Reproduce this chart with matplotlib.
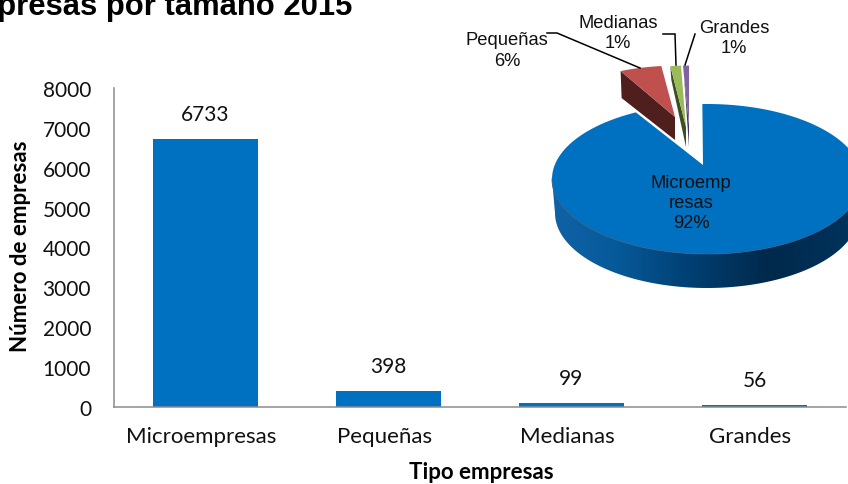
import numpy as np
import matplotlib
matplotlib.use('Agg')
import matplotlib.pyplot as plt
from matplotlib.colors import LinearSegmentedColormap
from matplotlib.patches import Polygon
from matplotlib.transforms import ScaledTranslation

# datos
categorias = ['Microempresas', 'Pequeñas', 'Medianas', 'Grandes']
empresas = [6733, 398, 99, 56]
pie_nombres = ['Microemp\nresas', 'Pequeñas', 'Medianas', 'Grandes']
pie_pct = ['92%', '6%', '1%', '1%']
y_ticks = [0, 1000, 2000, 3000, 4000, 5000, 6000, 7000, 8000]

W, H = 848, 485
AZUL = '#0070C0'

fig = plt.figure(figsize=(W / 100, H / 100), dpi=100)

# barras
ax = fig.add_axes([114 / W, 1 - 408 / H, (846 - 114) / W, (408 - 89) / H])
x = np.arange(len(categorias))
ax.bar(x, empresas, width=0.574, color=AZUL)
ax.set_xlim(-0.5, 3.5)
ax.set_ylim(0, 8000)
ax.set_yticks(y_ticks)
ax.set_xticks(x)
ax.set_xticklabels(categorias)
ax.tick_params(axis='both', length=0, labelsize=15, labelfontfamily='Lato', colors='#111111')
ax.tick_params(axis='y', pad=16.5)
ax.tick_params(axis='x', pad=14, labelsize=16)
for lab in ax.get_xticklabels():
    lab.set_transform(lab.get_transform() + ScaledTranslation(-4 / 100, 0, fig.dpi_scale_trans))
for s in ['top', 'right']:
    ax.spines[s].set_visible(False)
for s in ['left', 'bottom']:
    ax.spines[s].set_color('#8C8C8C')
    ax.spines[s].set_linewidth(1.1)
for xi, v in zip(x, empresas):
    ax.annotate(str(v), (xi, v), xytext=(0, 18), textcoords='offset points', ha='center', va='center',
                fontsize=15, family='Lato', color='#111111')

# capa en pixeles para la torta y los textos
ov = fig.add_axes([0, 0, 1, 1])
ov.set_xlim(0, W)
ov.set_ylim(H, 0)
ov.axis('off')
ov.patch.set_alpha(0)

ov.text(352, 15.5, 'Empresas por tamaño 2015', ha='right', va='baseline', fontsize=22.3,
        fontweight='bold', family='Liberation Sans', color='black')
ov.text(21, 246, 'Número de empresas', rotation=90, ha='center', va='center', fontsize=16,
        fontweight='bold', family='Lato', color='black')
ov.text(481, 473, 'Tipo empresas', ha='center', va='center', fontsize=16,
        fontweight='bold', family='Lato', color='black')

# angulos de la torta a partir de los datos (desde las 12, horario)
total = sum(empresas)
cortes = np.cumsum([0] + empresas) / total * 2 * np.pi


def arco(cx, cy, rx, ry, a0, a1, n=80):
    t = np.linspace(a0, a1, n)
    return np.column_stack([cx + rx * np.sin(t), cy - ry * np.cos(t)])


# pared lateral con degradado
t_base = np.linspace(np.pi / 2, 3 * np.pi / 2, 120)
arriba = np.column_stack([707 + 155 * np.sin(t_base), 180 - 75 * np.cos(t_base)])
abajo = np.column_stack([707 + 152 * np.sin(t_base), 214 - 75 * np.cos(t_base)])
pared = Polygon(np.vstack([arriba, abajo[::-1]]), closed=True, fc='none', ec='none', transform=ov.transData)
ov.add_patch(pared)
cmap = LinearSegmentedColormap.from_list('pared', [(0, '#0F62A4'), (0.2, '#075A9A'), (0.45, '#003F72'),
                                                   (0.7, '#00294B'), (1, '#00345E')])
img = ov.imshow(np.linspace(0, 1, 300).reshape(1, -1), cmap=cmap, extent=(552, 862, 300, 170), aspect='auto')
img.set_clip_path(pared)
ov.set_xlim(0, W)
ov.set_ylim(H, 0)

# porciones separadas: centro de la elipse y punta de cada una
porciones = [
    (1, 678, 115.6, (675, 118), (675, 141), '#C0504D', '#4F1F1D', 27),
    (2, 687, 115.6, (686, 128), (686, 148), '#9BBB59', '#3F4D24', 14),
    (3, 689, 115.6, (689, 126), (689, 148), '#8064A2', '#463560', 10),
]
for i, cx, cy, punta, punta_baja, claro, oscuro, prof in porciones:
    borde = arco(cx, cy, 125, 49, cortes[i], cortes[i + 1], 12)
    p0 = borde[0]
    ov.add_patch(Polygon([p0, p0 + (1, prof), punta_baja, punta], closed=True, fc=oscuro, ec='none', zorder=3))
    ov.add_patch(Polygon(np.vstack([borde, punta]), closed=True, fc=claro, ec='none', zorder=3))

# porcion grande
cara = arco(707, 180, 155, 75, cortes[0] - 0.03, cortes[1], 200)
ov.add_patch(Polygon(np.vstack([cara, [703, 166]]), closed=True, fc=AZUL, ec='none', zorder=4))
ov.plot(*arco(707, 180, 155, 75, np.pi / 2, 3 * np.pi / 2, 120).T, color='#2F5F8C', lw=0.6, zorder=5)

# lineas guia
guias = [([547, 557, 640], [34, 34, 69]), ([663, 675, 676], [35, 35, 66]), ([695, 685], [35, 66])]
for gx, gy in guias:
    ov.plot(gx, gy, color='black', lw=1.1, zorder=6, solid_joinstyle='miter')

# etiquetas de la torta
pos_etq = [(691, 203.5), (507, 51), (618, 33.5), (734, 38.5)]
for nombre, pct, (px, py) in zip(pie_nombres, pie_pct, pos_etq):
    ov.text(px, py, nombre + '\n' + pct, ha='center', va='center', fontsize=13.2, linespacing=1.25,
            family='Liberation Sans', color='#111111', zorder=7)
ov.set_xlim(0, W)
ov.set_ylim(H, 0)

fig.savefig('out.png', dpi=100)
